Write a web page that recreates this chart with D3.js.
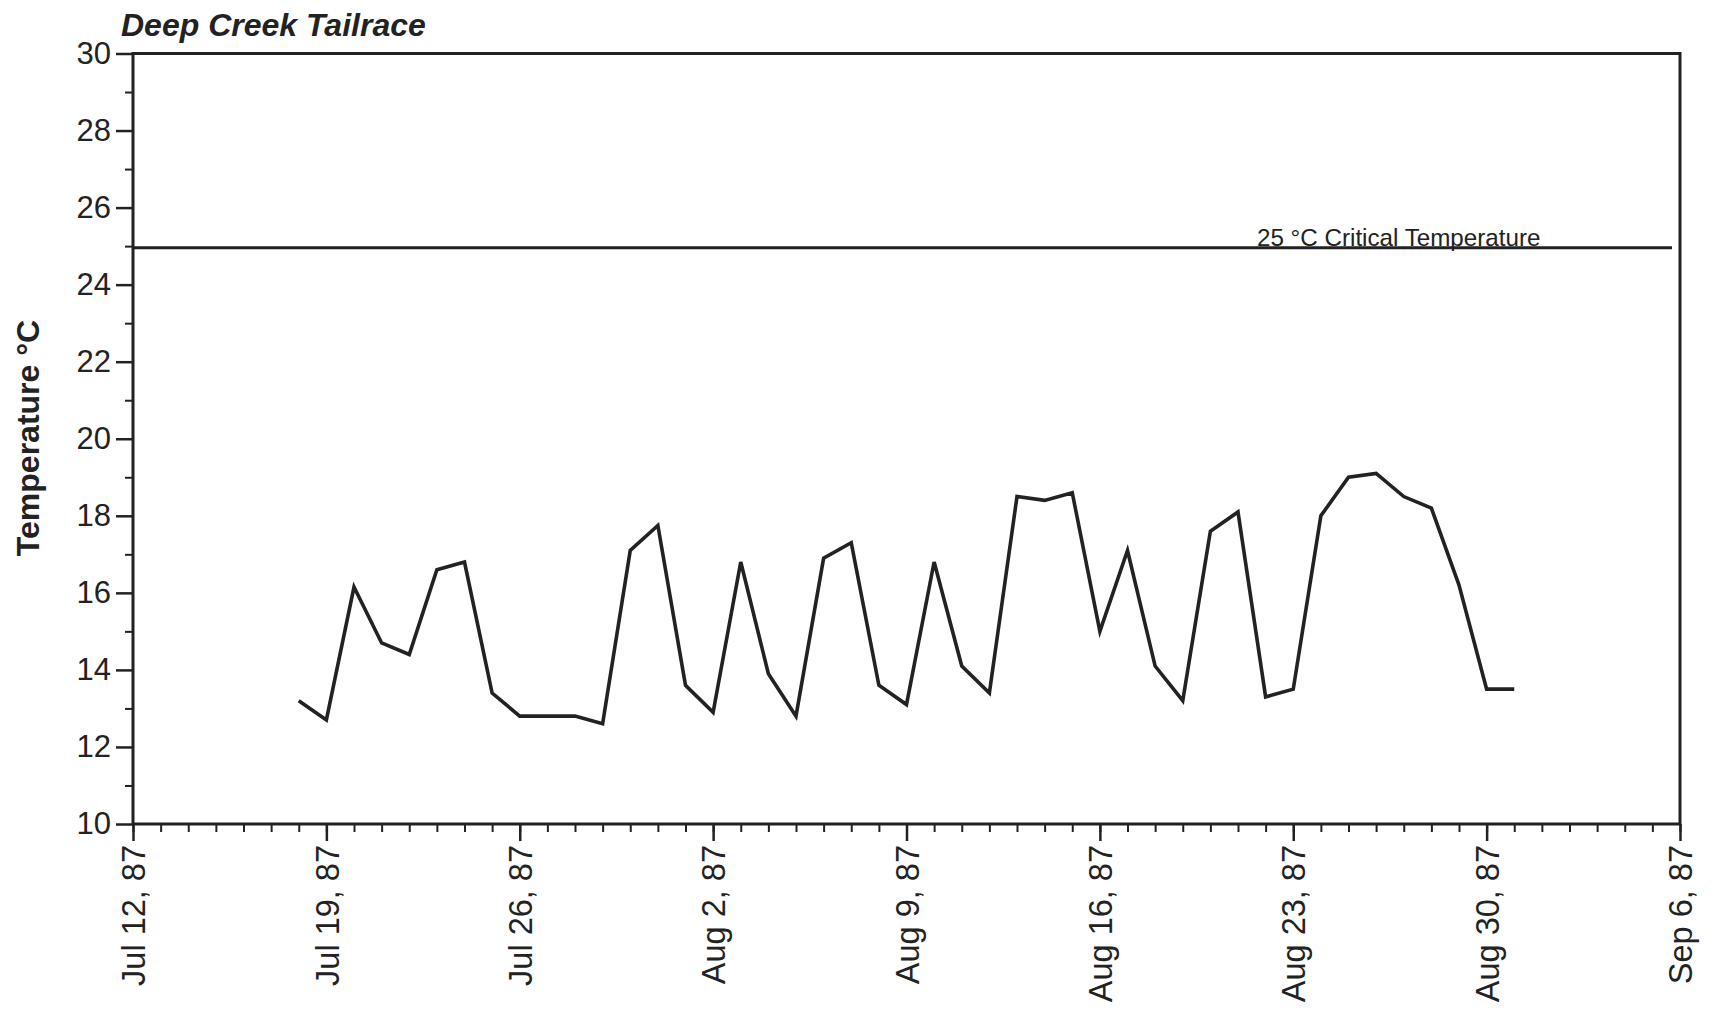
<!DOCTYPE html>
<html><head><meta charset="utf-8">
<script src="https://cdn.jsdelivr.net/npm/d3@7"></script>
<style>body{margin:0;background:#fff}svg text{font-family:"Liberation Sans",Arial,Helvetica,sans-serif;fill:#222}</style>
</head><body><svg id="c" width="1719" height="1013"></svg>
<script>
const title = "Deep Creek Tailrace";
const yLabel = "Temperature °C";
const criticalLabel = "25 °C Critical Temperature";
const criticalTemp = 25;
const dates = ["1987-07-18","1987-07-19","1987-07-20","1987-07-21","1987-07-22","1987-07-23","1987-07-24","1987-07-25","1987-07-26","1987-07-27","1987-07-28","1987-07-29","1987-07-30","1987-07-31","1987-08-01","1987-08-02","1987-08-03","1987-08-04","1987-08-05","1987-08-06","1987-08-07","1987-08-08","1987-08-09","1987-08-10","1987-08-11","1987-08-12","1987-08-13","1987-08-14","1987-08-15","1987-08-16","1987-08-17","1987-08-18","1987-08-19","1987-08-20","1987-08-21","1987-08-22","1987-08-23","1987-08-24","1987-08-25","1987-08-26","1987-08-27","1987-08-28","1987-08-29","1987-08-30","1987-08-31"];
const temps = [13.2,12.7,16.15,14.7,14.4,16.6,16.8,13.4,12.8,12.8,12.8,12.6,17.1,17.75,13.6,12.9,16.8,13.9,12.8,16.9,17.3,13.6,13.1,16.8,14.1,13.4,18.5,18.4,18.6,15.0,17.1,14.1,13.2,17.6,18.1,13.3,13.5,18.0,19.0,19.1,18.5,18.2,16.2,13.5,13.5];
const xTickDates = ["1987-07-12","1987-07-19","1987-07-26","1987-08-02","1987-08-09","1987-08-16","1987-08-23","1987-08-30","1987-09-06"];
const xTickLabels = ["Jul 12, 87","Jul 19, 87","Jul 26, 87","Aug 2, 87","Aug 9, 87","Aug 16, 87","Aug 23, 87","Aug 30, 87","Sep 6, 87"];
const yTicks = [10,12,14,16,18,20,22,24,26,28,30];
const yMinorTicks = [11,13,15,17,19,21,23,25,27,29];

const parse = d3.timeParse("%Y-%m-%d");
const L = 133, R = 1680, T = 53.5, B = 824;
const svg = d3.select("#c");
const x = d3.scaleTime().domain([parse(xTickDates[0]), parse(xTickDates[xTickDates.length-1])]).range([L, R]);
const y = d3.scaleLinear().domain([10, 30]).range([B, T]);
const ink = "#222";

// minor x ticks (daily)
const xMinor = svg.append("g").attr("transform", `translate(0,${B})`)
  .call(d3.axisBottom(x).ticks(d3.timeDay.every(1)).tickSize(8).tickFormat(""));
xMinor.select(".domain").remove();
xMinor.selectAll("line").attr("stroke", ink).attr("stroke-width", 2);

// major x ticks
const xMajor = svg.append("g").attr("transform", `translate(0,${B})`)
  .call(d3.axisBottom(x).tickValues(xTickDates.map(parse)).tickSize(17)
    .tickFormat((d, i) => xTickLabels[i]));
xMajor.select(".domain").remove();
xMajor.selectAll("line").attr("stroke", ink).attr("stroke-width", 2.5);
xMajor.selectAll("text").attr("transform", "rotate(-90)").attr("x", -21).attr("y", 0)
  .attr("dy", "0.36em").style("text-anchor", "end").style("font-size", "32.5px").attr("fill", ink);

// y minor
const yMin = svg.append("g").attr("transform", `translate(${L},0)`)
  .call(d3.axisLeft(y).tickValues(yMinorTicks).tickSize(8).tickFormat(""));
yMin.select(".domain").remove();
yMin.selectAll("line").attr("stroke", ink).attr("stroke-width", 2);

// y major
const yMaj = svg.append("g").attr("transform", `translate(${L},0)`)
  .call(d3.axisLeft(y).tickValues(yTicks).tickSize(17).tickPadding(5).tickFormat(d3.format("d")));
yMaj.select(".domain").remove();
yMaj.selectAll("line").attr("stroke", ink).attr("stroke-width", 2.5);
yMaj.selectAll("text").style("font-size", "31px").attr("fill", ink);

// frame
svg.append("rect").attr("x", L).attr("y", T).attr("width", R - L).attr("height", B - T)
  .attr("fill", "none").attr("stroke", ink).attr("stroke-width", 3);

// critical line
svg.append("line").attr("x1", L).attr("x2", x(parse("1987-09-06")) - 8)
  .attr("y1", y(criticalTemp) + 1.5).attr("y2", y(criticalTemp) + 1.5)
  .attr("stroke", ink).attr("stroke-width", 3);
svg.append("text").attr("x", 1257).attr("y", y(criticalTemp))
  .style("font-size", "24.2px").text(criticalLabel);

// data line
const line = d3.line().x((d, i) => x(parse(dates[i]))).y(d => y(d));
svg.append("path").datum(temps).attr("d", line).attr("fill", "none")
  .attr("stroke", ink).attr("stroke-width", 3.6).attr("stroke-linejoin", "miter");

// title
svg.append("text").attr("x", 121).attr("y", 36).style("font-size", "32px")
  .style("font-weight", "bold").style("font-style", "italic").text(title);

// y label
svg.append("text").attr("transform", "translate(39,438) rotate(-90)")
  .style("text-anchor", "middle").style("font-size", "32px").style("font-weight", "bold")
  .text(yLabel);
</script></body></html>
